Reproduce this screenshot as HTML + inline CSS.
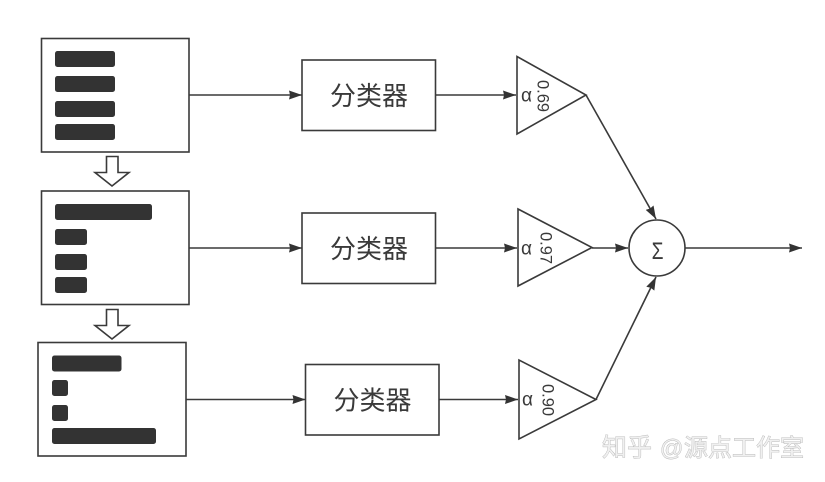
<!DOCTYPE html>
<html><head><meta charset="utf-8"><style>html,body{margin:0;padding:0;background:#fff;width:825px;height:482px;overflow:hidden}svg{display:block}text{font-family:"Liberation Sans","Noto Sans CJK SC",sans-serif;fill:#3a3a3a}</style></head><body>
<svg width="825" height="482" viewBox="0 0 825 482" xmlns="http://www.w3.org/2000/svg">
<defs><marker id="a" markerUnits="userSpaceOnUse" markerWidth="15" markerHeight="11" refX="13" refY="5.5" orient="auto"><path d="M0 1L13 5.5L0 10L1 5.5Z" fill="#333"/></marker></defs>
<g fill="none" stroke="#3a3a3a" stroke-width="1.6">
<rect x="41.5" y="38.5" width="147.5" height="113.5"/>
<rect x="41.5" y="191" width="147.5" height="113.5"/>
<rect x="38" y="342.5" width="148" height="113.5"/>
<path d="M106.5 156.5H118V172.5H129L112 186L95 172.5H106.5Z"/>
<path d="M106.5 309.5H118V325.5H129L112 339L95 325.5H106.5Z"/>
<rect x="302" y="60" width="133.5" height="70.5"/>
<rect x="302" y="213" width="133.5" height="70.5"/>
<rect x="305.5" y="364.5" width="133.5" height="70.5"/>
<path d="M517 56.5V134L586 95Z"/>
<path d="M518 209V286L592 247.5Z"/>
<path d="M519 360V439L596 399.5Z"/>
<circle cx="657" cy="248" r="28"/>
<path d="M189 95H302" marker-end="url(#a)"/>
<path d="M189 248H302" marker-end="url(#a)"/>
<path d="M186 399.5H305.5" marker-end="url(#a)"/>
<path d="M435.5 95H516" marker-end="url(#a)"/>
<path d="M435.5 248H517" marker-end="url(#a)"/>
<path d="M439 399.5H518" marker-end="url(#a)"/>
<path d="M592 248H628" marker-end="url(#a)"/>
<path d="M586 95L656 219" marker-end="url(#a)"/>
<path d="M596 399.5L656 277" marker-end="url(#a)"/>
<path d="M685 248H802" marker-end="url(#a)"/>
</g>
<g fill="#333">
<rect x="55" y="51" width="60" height="16" rx="2.5"/><rect x="55" y="76" width="60" height="16" rx="2.5"/><rect x="55" y="101" width="60" height="16" rx="2.5"/><rect x="55" y="124" width="60" height="16" rx="2.5"/>
<rect x="55" y="204" width="97" height="16" rx="2.5"/><rect x="55" y="229" width="32" height="16" rx="2.5"/><rect x="55" y="254" width="32" height="16" rx="2.5"/><rect x="55" y="277" width="32" height="16" rx="2.5"/>
<rect x="52" y="355.5" width="69.5" height="16" rx="2.5"/><rect x="52" y="380" width="16" height="16" rx="2.5"/><rect x="52" y="405" width="16" height="16" rx="2.5"/><rect x="52" y="428" width="104" height="16" rx="2.5"/>
</g>
<g font-size="26" text-anchor="middle">
<text x="369" y="105">分类器</text>
<text x="369" y="258">分类器</text>
<text x="372.5" y="409.5">分类器</text>
</g>
<g font-size="19">
<text x="521" y="101.5">α</text>
<text x="521" y="254.5">α</text>
<text x="522" y="405.5">α</text>
</g>
<g font-size="16.5" text-anchor="middle">
<text transform="translate(537.5,96) rotate(90)">0.69</text>
<text transform="translate(540.5,248) rotate(90)">0.97</text>
<text transform="translate(542.5,400) rotate(90)">0.90</text>
</g>
<text transform="translate(657.5,259) scale(.8,1)" font-size="24" text-anchor="middle">Σ</text>
<g style="paint-order:stroke">
<text x="602" y="456" font-size="25" style="fill:#f0f0f0;stroke:#aaa;stroke-width:.7">知乎</text>
<text x="660" y="456" font-size="23" style="fill:#f0f0f0;stroke:#aaa;stroke-width:.7">@</text>
<text x="684" y="456" font-size="24" style="fill:#f0f0f0;stroke:#aaa;stroke-width:.7">源点工作室</text>
</g>
</svg>
</body></html>
